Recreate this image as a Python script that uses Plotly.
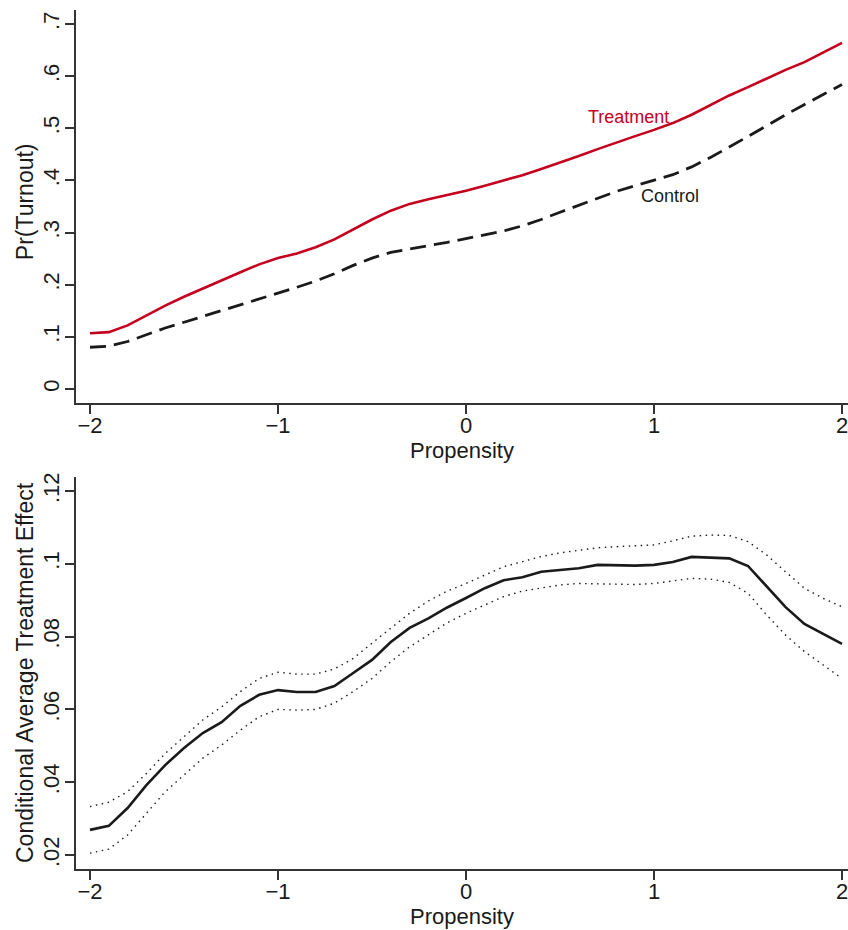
import plotly.graph_objects as go

# ---------------- data ----------------
propensity = [-2.0, -1.9, -1.8, -1.7, -1.6, -1.5, -1.4, -1.3, -1.2, -1.1,
              -1.0, -0.9, -0.8, -0.7, -0.6, -0.5, -0.4, -0.3, -0.2, -0.1,
              0.0, 0.1, 0.2, 0.3, 0.4, 0.5, 0.6, 0.7, 0.8, 0.9,
              1.0, 1.1, 1.2, 1.3, 1.4, 1.5, 1.6, 1.7, 1.8, 1.9, 2.0]

treatment = [0.107, 0.109, 0.122, 0.141, 0.160, 0.177, 0.193, 0.209, 0.224, 0.239,
             0.251, 0.260, 0.272, 0.287, 0.306, 0.325, 0.342, 0.355, 0.364, 0.372,
             0.380, 0.390, 0.400, 0.410, 0.422, 0.434, 0.447, 0.460, 0.473, 0.485,
             0.497, 0.510, 0.526, 0.544, 0.563, 0.579, 0.596, 0.612, 0.627, 0.645, 0.664]

control = [0.080, 0.082, 0.091, 0.104, 0.117, 0.128, 0.139, 0.150, 0.162, 0.173,
           0.184, 0.195, 0.207, 0.221, 0.237, 0.251, 0.262, 0.269, 0.275, 0.281,
           0.288, 0.295, 0.303, 0.313, 0.325, 0.339, 0.352, 0.366, 0.379, 0.390,
           0.400, 0.411, 0.426, 0.444, 0.464, 0.484, 0.505, 0.526, 0.546, 0.565, 0.584]

cate = [0.0269, 0.0280, 0.0329, 0.0392, 0.0447, 0.0494, 0.0535, 0.0565, 0.0610, 0.0640,
        0.0653, 0.0648, 0.0648, 0.0664, 0.0700, 0.0736, 0.0785, 0.0824, 0.0850, 0.0880,
        0.0906, 0.0933, 0.0955, 0.0963, 0.0978, 0.0983, 0.0988, 0.0997, 0.0995, 0.0995,
        0.0997, 0.1005, 0.1019, 0.1018, 0.1015, 0.0994, 0.0936, 0.0881, 0.0835, 0.0807, 0.0780]

cate_upper = [0.0333, 0.0345, 0.0374, 0.0424, 0.0479, 0.0525, 0.0571, 0.0607, 0.0649, 0.0685,
              0.0702, 0.0697, 0.0697, 0.0711, 0.0740, 0.0782, 0.0823, 0.0864, 0.0898, 0.0925,
              0.0946, 0.0969, 0.0992, 0.1006, 0.1020, 0.1030, 0.1038, 0.1044, 0.1047, 0.1049,
              0.1052, 0.1063, 0.1076, 0.1079, 0.1078, 0.1061, 0.1024, 0.0978, 0.0933, 0.0905, 0.0882]

cate_lower = [0.0205, 0.0216, 0.0255, 0.0315, 0.0374, 0.0420, 0.0466, 0.0502, 0.0543, 0.0580,
              0.0600, 0.0598, 0.0600, 0.0617, 0.0649, 0.0685, 0.0731, 0.0772, 0.0805, 0.0838,
              0.0864, 0.0887, 0.0910, 0.0925, 0.0934, 0.0942, 0.0946, 0.0946, 0.0944, 0.0943,
              0.0946, 0.0953, 0.0960, 0.0958, 0.0949, 0.0919, 0.0859, 0.0804, 0.0759, 0.0722, 0.0685]

x_ticks = [-2, -1, 0, 1, 2]
x_tick_text = ["\u22122", "\u22121", "0", "1", "2"]
top_y_ticks = [0, 0.1, 0.2, 0.3, 0.4, 0.5, 0.6, 0.7]
top_y_text = ["0", ".1", ".2", ".3", ".4", ".5", ".6", ".7"]
bot_y_ticks = [0.02, 0.04, 0.06, 0.08, 0.10, 0.12]
bot_y_text = [".02", ".04", ".06", ".08", ".1", ".12"]

# ---------------- figure ----------------
RED = "#C5001E"
BLACK = "#1a1a1a"
AXIS = "#333333"
FONT = "Liberation Sans, Arial, Helvetica, sans-serif"

fig = go.Figure()

fig.add_trace(go.Scatter(x=propensity, y=treatment, mode="lines",
                         line=dict(color=RED, width=2.6), xaxis="x", yaxis="y",
                         name="Treatment"))
fig.add_trace(go.Scatter(x=propensity, y=control, mode="lines",
                         line=dict(color=BLACK, width=2.8, dash="16px,8px"),
                         xaxis="x", yaxis="y", name="Control"))

fig.add_trace(go.Scatter(x=propensity, y=cate_upper, mode="lines",
                         line=dict(color=BLACK, width=1.4, dash="1.5px,4.5px"),
                         xaxis="x2", yaxis="y2", name="Upper"))
fig.add_trace(go.Scatter(x=propensity, y=cate_lower, mode="lines",
                         line=dict(color=BLACK, width=1.4, dash="1.5px,4.5px"),
                         xaxis="x2", yaxis="y2", name="Lower"))
fig.add_trace(go.Scatter(x=propensity, y=cate, mode="lines",
                         line=dict(color=BLACK, width=2.6),
                         xaxis="x2", yaxis="y2", name="CATE"))

W, H = 848, 930
ML, MR, MT, MB = 76, 0, 10, 61
ph = H - MT - MB
pw = W - ML - MR
top_lo = (H - MB - 403) / ph
bot_hi = (H - MB - 477) / ph

x_range = [-2.0745, -2.0745 + pw / 188.0]

common_x = dict(range=x_range, tickvals=x_ticks, ticktext=x_tick_text,
                showline=True, linecolor=AXIS, linewidth=1.5,
                ticks="outside", ticklen=9, tickwidth=1.5, tickcolor=AXIS,
                showgrid=False, zeroline=False, automargin=False,
                tickfont=dict(size=22, color=BLACK, family=FONT),
                ticklabelstandoff=-7, ticklabeloverflow="allow",
                title=dict(text="Propensity", font=dict(size=22, color=BLACK, family=FONT),
                           standoff=2))
common_y = dict(showline=True, linecolor=AXIS, linewidth=1.5,
                ticks="outside", ticklen=9, tickwidth=1.5, tickcolor=AXIS,
                showgrid=False, zeroline=False, tickangle=-90, automargin=False,
                tickfont=dict(size=22, color=BLACK, family=FONT),
                ticklabelstandoff=-3, ticklabeloverflow="allow")

title_x = (25 - ML) / pw  # paper x of the rotated y-axis titles

fig.update_layout(
    width=W, height=H,
    margin=dict(l=ML, r=MR, t=MT, b=MB),
    paper_bgcolor="white", plot_bgcolor="white",
    showlegend=False,
    font=dict(family=FONT, color=BLACK),
    xaxis=dict(domain=[0, 1], anchor="y", **common_x),
    yaxis=dict(domain=[top_lo, 1], anchor="x",
               range=[-0.0269, 0.7269], tickvals=top_y_ticks, ticktext=top_y_text,
               **common_y),
    xaxis2=dict(domain=[0, 1], anchor="y2", **common_x),
    yaxis2=dict(domain=[0, bot_hi], anchor="x2",
                range=[0.01615, 0.12385], tickvals=bot_y_ticks, ticktext=bot_y_text,
                **common_y),
    annotations=[
        dict(text="Pr(Turnout)", x=title_x, y=(top_lo + 1) / 2 + 0.005,
             xref="paper", yref="paper", textangle=-90, showarrow=False,
             xanchor="center", yanchor="middle",
             font=dict(size=23, color=BLACK, family=FONT)),
        dict(text="Conditional Average Treatment Effect", x=title_x, y=bot_hi / 2,
             xref="paper", yref="paper", textangle=-90, showarrow=False,
             xanchor="center", yanchor="middle",
             font=dict(size=23, color=BLACK, family=FONT)),
        dict(text="Treatment", x=0.862, y=0.522, xref="x", yref="y",
             showarrow=False, font=dict(size=18, color=RED, family=FONT)),
        dict(text="Control", x=1.085, y=0.370, xref="x", yref="y",
             showarrow=False, font=dict(size=18, color=BLACK, family=FONT)),
    ],
)

fig.write_html("out.html",
               config={"displayModeBar": False},
               post_script="document.body.style.margin='0px';"
                           "document.body.style.overflow='hidden';")
